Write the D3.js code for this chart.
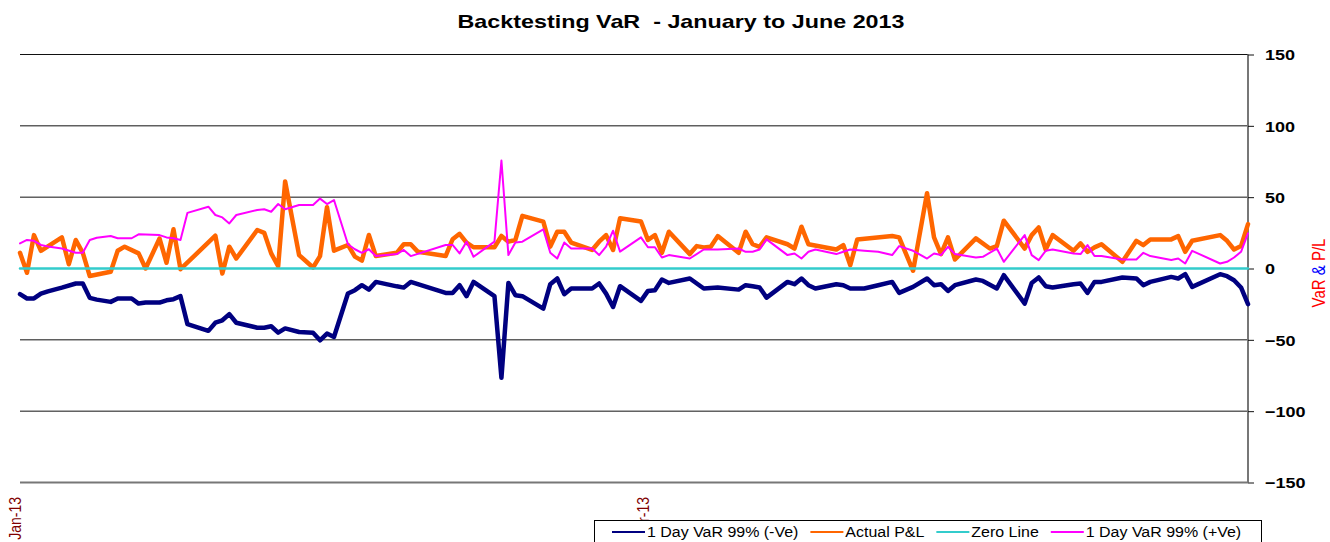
<!DOCTYPE html>
<html lang="en">
<head>
<meta charset="UTF-8">
<title>Backtesting VaR - January to June 2013</title>
<script src="https://d3js.org/d3.v7.min.js"></script>
<style>
    body { margin: 0; background: #fff; }
    svg { display: block; font-family: "Liberation Sans", Arial, sans-serif; }
</style>
</head>
<body>
<svg width="1330" height="542"></svg>
<script>
    // dates shared by both VaR series
    const varDates = ["2013-01-01","2013-01-02","2013-01-03","2013-01-04","2013-01-05","2013-01-07","2013-01-09","2013-01-10","2013-01-11","2013-01-12",
        "2013-01-14","2013-01-15","2013-01-17","2013-01-18","2013-01-19","2013-01-21","2013-01-22","2013-01-23","2013-01-24","2013-01-25",
        "2013-01-28","2013-01-29","2013-01-30","2013-01-31","2013-02-01","2013-02-04","2013-02-05","2013-02-06","2013-02-07","2013-02-08",
        "2013-02-10","2013-02-12","2013-02-13","2013-02-14","2013-02-15","2013-02-17","2013-02-18","2013-02-19","2013-02-20","2013-02-21",
        "2013-02-24","2013-02-25","2013-02-26","2013-03-03","2013-03-04","2013-03-05","2013-03-06","2013-03-07","2013-03-10","2013-03-11",
        "2013-03-12","2013-03-13","2013-03-14","2013-03-17","2013-03-18","2013-03-19","2013-03-20","2013-03-21","2013-03-24","2013-03-25",
        "2013-03-26","2013-03-27","2013-03-28","2013-03-31","2013-04-01","2013-04-02","2013-04-03","2013-04-04","2013-04-07","2013-04-09",
        "2013-04-11","2013-04-14","2013-04-15","2013-04-16","2013-04-17","2013-04-18","2013-04-21","2013-04-22","2013-04-23","2013-04-24",
        "2013-04-25","2013-04-28","2013-04-29","2013-04-30","2013-05-02","2013-05-04","2013-05-06","2013-05-07","2013-05-09","2013-05-11",
        "2013-05-12","2013-05-13","2013-05-14","2013-05-15","2013-05-18","2013-05-19","2013-05-21","2013-05-22","2013-05-25","2013-05-26",
        "2013-05-27","2013-05-28","2013-05-29","2013-06-01","2013-06-02","2013-06-03","2013-06-04","2013-06-05","2013-06-08","2013-06-10",
        "2013-06-11","2013-06-12","2013-06-15","2013-06-16","2013-06-17","2013-06-18","2013-06-22","2013-06-23","2013-06-24","2013-06-25",
        "2013-06-26"];

    const varNeg = [-18, -21, -21, -17.6, -16, -13.4, -10.5, -10.5, -20.6, -21.8,
        -23.4, -21, -21, -24.6, -23.9, -23.9, -22.3, -21.5, -19.4, -39,
        -43.7, -38, -36.3, -32, -38, -41.5, -41.5, -40.5, -45, -42,
        -44.5, -45, -50.3, -45.6, -48, -17.5, -15.2, -11.7, -14.8, -9.4,
        -12.5, -13.4, -9.4, -17.1, -17.1, -11.7, -19.4, -9.4, -19.4, -76.6,
        -10.1, -18.7, -19.4, -28.1, -11, -7, -18, -14, -14, -10.5,
        -17.6, -27, -12.4, -22.7, -15.7, -15.2, -7.7, -10.1, -7, -14,
        -13.3, -14.8, -11.7, -12.5, -13.3, -20.4, -9.4, -11, -7, -11.7,
        -14, -11, -11.7, -14, -14, -11.7, -9.4, -17.1, -12.9, -7,
        -11.7, -11, -15.7, -11.7, -7.7, -8.7, -14, -4.7, -24.6, -10.1,
        -6.3, -12.4, -13.3, -11, -10.5, -17.1, -9.4, -9.4, -6.3, -7,
        -11.7, -9.4, -5.9, -7, -4, -12.9, -4, -5.4, -8.2, -13.3,
        -25];

    const varPos = [17.6, 20, 19.4, 16.5, 15.5, 14, 11, 11, 20, 21.5,
        22.8, 21.2, 21.2, 24, 23.8, 23.4, 21.8, 21.2, 20, 39,
        43.3, 37.5, 35.8, 31.6, 37.5, 41, 41.5, 39.8, 45.2, 41.5,
        44.5, 44.5, 49, 45.2, 48, 17, 13.5, 11, 13.5, 8.7,
        10.1, 13, 8.7, 16.5, 16.5, 10.6, 18.8, 8.2, 18.8, 75.7,
        9.4, 18.2, 18.8, 27.5, 11, 7, 18.2, 14, 14, 9.4,
        15.3, 26.5, 11.8, 21.8, 14.9, 14.9, 7.7, 9.4, 7, 13.3,
        13.3, 14, 11.7, 11.7, 13.3, 20.4, 9.4, 10.5, 7, 11.7,
        13.3, 10.1, 11.7, 13.3, 12.5, 11.7, 9.4, 15.7, 12.4, 7,
        10.5, 9.4, 15.2, 10.1, 7.7, 8.2, 14, 4.7, 23.4, 9.4,
        5.9, 12.4, 13.3, 10.5, 10.1, 16.4, 8.7, 8.7, 6.3, 6.3,
        11, 8.7, 5.9, 7, 3.5, 12.4, 3.5, 4.7, 7.7, 11.7,
        24.6];

    const plDates = ["2013-01-01","2013-01-02","2013-01-03","2013-01-04","2013-01-07","2013-01-08","2013-01-09","2013-01-10","2013-01-11","2013-01-14",
        "2013-01-15","2013-01-16","2013-01-18","2013-01-19","2013-01-21","2013-01-22","2013-01-23","2013-01-24","2013-01-29","2013-01-30",
        "2013-01-31","2013-02-01","2013-02-04","2013-02-05","2013-02-06","2013-02-07","2013-02-08","2013-02-10","2013-02-12","2013-02-13",
        "2013-02-14","2013-02-15","2013-02-17","2013-02-18","2013-02-19","2013-02-20","2013-02-21","2013-02-24","2013-02-25","2013-02-26",
        "2013-02-27","2013-03-03","2013-03-04","2013-03-05","2013-03-06","2013-03-07","2013-03-10","2013-03-11","2013-03-12","2013-03-13",
        "2013-03-14","2013-03-17","2013-03-18","2013-03-19","2013-03-20","2013-03-21","2013-03-24","2013-03-25","2013-03-26","2013-03-27",
        "2013-03-28","2013-03-31","2013-04-01","2013-04-02","2013-04-03","2013-04-04","2013-04-07","2013-04-08","2013-04-09","2013-04-10",
        "2013-04-11","2013-04-14","2013-04-15","2013-04-16","2013-04-17","2013-04-18","2013-04-21","2013-04-22","2013-04-23","2013-04-24",
        "2013-04-28","2013-04-29","2013-04-30","2013-05-01","2013-05-06","2013-05-07","2013-05-09","2013-05-11","2013-05-12","2013-05-13",
        "2013-05-14","2013-05-15","2013-05-18","2013-05-20","2013-05-21","2013-05-22","2013-05-25","2013-05-26","2013-05-27","2013-05-28",
        "2013-05-29","2013-06-01","2013-06-02","2013-06-03","2013-06-04","2013-06-05","2013-06-08","2013-06-10","2013-06-11","2013-06-12",
        "2013-06-15","2013-06-16","2013-06-17","2013-06-18","2013-06-22","2013-06-23","2013-06-24","2013-06-25","2013-06-26"];

    const actualPL = [11, -3, 23.4, 12.4, 21.8, 3, 20, 11, -5.3, -2.3,
        12.4, 15.3, 10.6, 0, 21, 4, 27.5, -0.5, 23, -3.5,
        15.3, 7, 27, 25, 10.6, 1.6, 61, 9.4, 0.7, 8.7,
        43, 12.5, 16.5, 8.3, 5.5, 23.5, 8.7, 11, 17, 17,
        11.8, 8.7, 20.5, 24.3, 18.2, 14.9, 14.9, 22.8, 18.8, 20,
        36.9, 32.9, 15.3, 25.8, 25.8, 18.2, 13, 18.8, 23.4, 13,
        35.2, 32.9, 20, 23.4, 11, 25.8, 10.1, 15.7, 14.8, 15.2,
        22.7, 11, 25.8, 17, 15.2, 21.8, 17, 14, 29.3, 17,
        13.3, 16.4, 2.3, 20.4, 22.8, 21.8, -1.6, 52.8, 21.8, 10.1,
        21.8, 6.3, 21.1, 14, 15.7, 33.5, 14, 23.4, 28.8, 13.3,
        23.4, 12.4, 17.6, 11.7, 14.8, 17, 4.7, 19.4, 16.4, 20.4,
        20.4, 22.7, 11.7, 19.4, 23.4, 19.4, 13.3, 15.7, 31.1];

    const zeroDates = ["2013-01-01", "2013-06-26"];
    const zeroLine = [0, 0];

    const yTicks = [150, 100, 50, 0, -50, -100, -150];
    const xTickDates = ["2013-01-01", "2013-04-01"];
    const legendNames = ["1 Day VaR 99% (-Ve)", "Actual P&L", "Zero Line", "1 Day VaR 99% (+Ve)"];
    const legendColors = ["#000080", "#ff6600", "#33cccc", "#ff00ff"];

    const svg = d3.select("svg");
    const parse = d3.utcParse("%Y-%m-%d");

    const x = d3.scaleUtc()
        .domain([parse(zeroDates[0]), parse(zeroDates[1])])
        .range([20, 1248]);
    const y = d3.scaleLinear().domain([-150, 150]).range([482.5, 54.5]);

    // widen text a little (the source picture is stretched sideways)
    function stretch(sel, f) {
        let total = 0;
        sel.each(function () {
            const w = this.getComputedTextLength() * f;
            d3.select(this).attr("textLength", w).attr("lengthAdjust", "spacingAndGlyphs");
            total = w;
        });
        return total;
    }

    // title
    svg.append("text")
        .attr("x", 681).attr("y", 28)
        .attr("text-anchor", "middle")
        .attr("font-size", 19).attr("font-weight", "bold")
        .style("white-space", "pre")
        .attr("textLength", 447).attr("lengthAdjust", "spacingAndGlyphs")
        .text("Backtesting VaR  - January to June 2013");

    // gridlines
    svg.append("g").selectAll("line")
        .data(yTicks)
        .enter().append("line")
        .attr("x1", 20).attr("x2", 1248)
        .attr("y1", d => y(d)).attr("y2", d => y(d))
        .attr("stroke", "#111").attr("stroke-width", 1);

    // bottom axis line
    svg.append("line")
        .attr("x1", 20).attr("x2", 1248)
        .attr("y1", y(-150)).attr("y2", y(-150))
        .attr("stroke", "#777").attr("stroke-width", 2);

    // right axis
    const yAxis = svg.append("g")
        .attr("transform", "translate(1248,0)")
        .call(d3.axisRight(y).tickValues(yTicks).tickSize(6).tickPadding(11));
    yAxis.select(".domain").attr("stroke", "#777").attr("stroke-width", 2)
        .attr("d", `M0,${y(150)}V${y(-150)}`);
    yAxis.selectAll(".tick line").attr("stroke", "#111");
    yAxis.selectAll(".tick text")
        .attr("font-family", "'Liberation Sans', Arial, sans-serif")
        .attr("font-size", 15).attr("font-weight", "bold").attr("fill", "#000")
        .attr("dy", "0.36em");
    stretch(yAxis.selectAll(".tick text"), 1.2);

    // right axis title
    const yTitle = svg.append("text")
        .attr("transform", "translate(1325,273) scale(1.2,1) rotate(-90)")
        .attr("text-anchor", "middle")
        .attr("font-size", 15)
        .style("white-space", "pre");
    yTitle.append("tspan").attr("fill", "#ff0000").text("VaR ");
    yTitle.append("tspan").attr("fill", "#0000ff").text("&");
    yTitle.append("tspan").attr("fill", "#ff0000").text(" P/L");

    // x tick labels
    const fmt = d3.utcFormat("%b-%y");
    svg.append("g").selectAll("text")
        .data(xTickDates)
        .enter().append("text")
        .attr("transform", d => `translate(${x(parse(d)) + 1},497) scale(1.2,1) rotate(-90)`)
        .attr("text-anchor", "end")
        .attr("font-size", 14)
        .attr("fill", "#800000")
        .text(d => fmt(parse(d)));

    // series
    const line = d3.line()
        .x(d => x(d[0]))
        .y(d => y(d[1]));

    function drawSeries(dates, values, color, width) {
        svg.append("path")
            .datum(dates.map((d, i) => [parse(d), values[i]]))
            .attr("d", line)
            .attr("fill", "none")
            .attr("stroke", color)
            .attr("stroke-width", width)
            .attr("stroke-linejoin", "round")
            .attr("stroke-linecap", "round");
    }

    drawSeries(varDates, varNeg, legendColors[0], 4.5);
    drawSeries(plDates, actualPL, legendColors[1], 4.5);
    drawSeries(zeroDates, zeroLine, legendColors[2], 2.5);
    drawSeries(varDates, varPos, legendColors[3], 2);

    // legend
    const legend = svg.append("g");
    legend.append("rect")
        .attr("x", 594.5).attr("y", 520.5)
        .attr("width", 667).attr("height", 40)
        .attr("fill", "#fff").attr("stroke", "#000");

    let lx = 612;
    legendNames.forEach((name, i) => {
        legend.append("line")
            .attr("x1", lx).attr("x2", lx + 33)
            .attr("y1", 532).attr("y2", 532)
            .attr("stroke", legendColors[i]).attr("stroke-width", 2);
        const t = legend.append("text")
            .attr("x", lx + 35).attr("y", 537)
            .attr("font-size", 14)
            .text(name);
        const w = stretch(t, 1.14);
        lx += 35 + w + 12;
    });
</script>
</body>
</html>
